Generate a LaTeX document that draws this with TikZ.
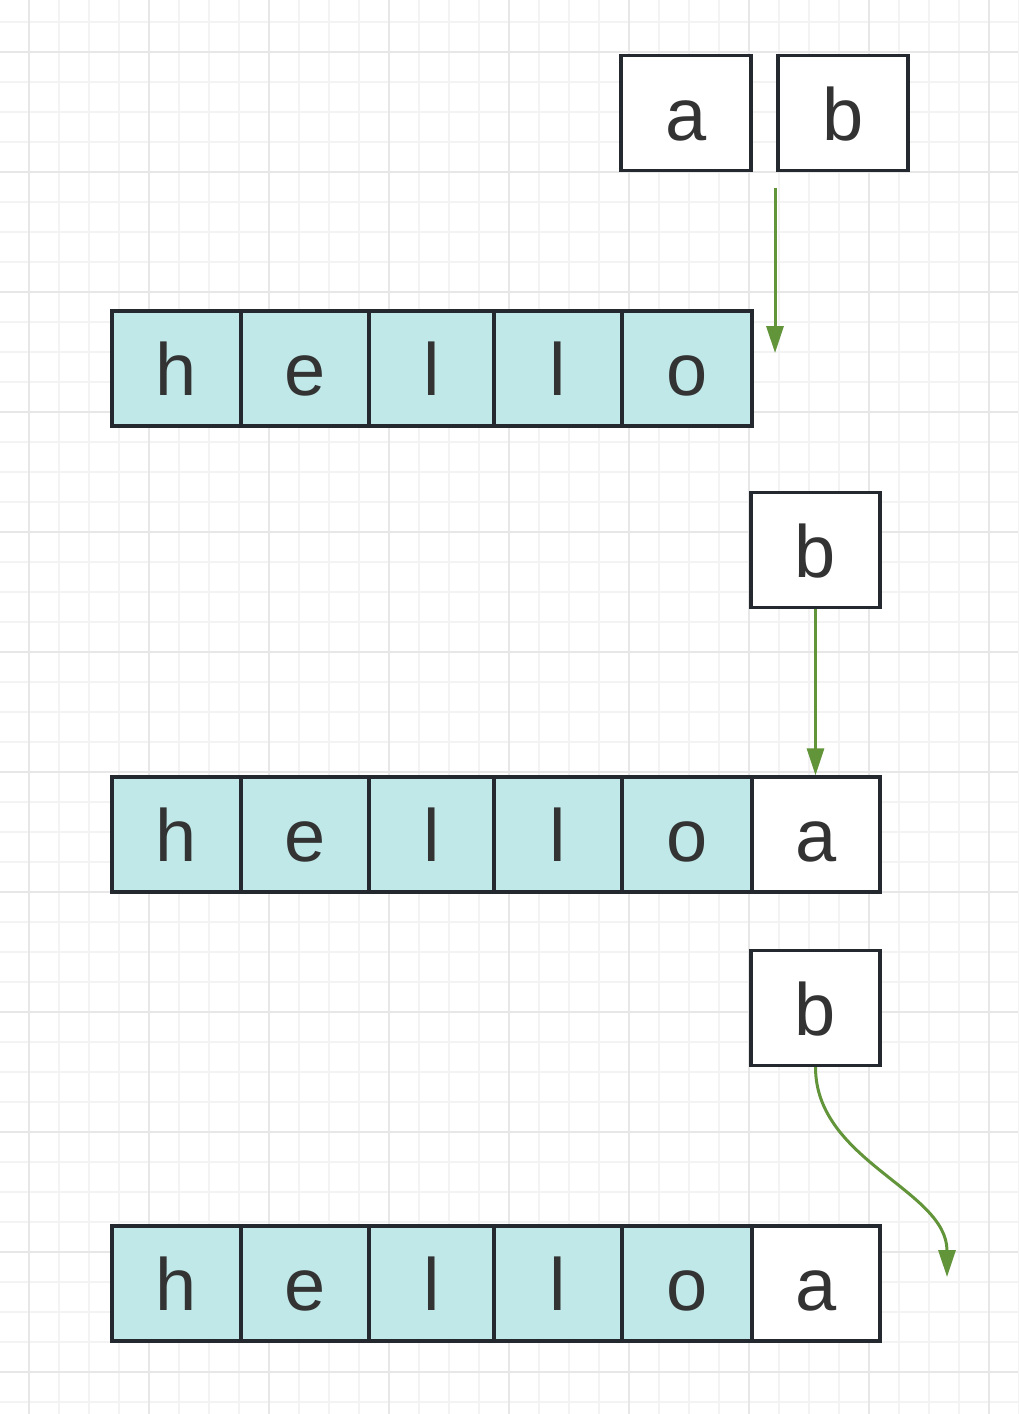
\documentclass[tikz,border=0pt]{standalone}
\usepackage{fontspec}
\setmainfont{Liberation Sans}
\usetikzlibrary{arrows.meta}
\definecolor{cellfill}{RGB}{192,232,232}
\definecolor{edge}{RGB}{36,41,47}
\definecolor{txt}{RGB}{51,51,51}
\definecolor{arrowgreen}{RGB}{98,148,58}
\definecolor{gridminor}{RGB}{243,243,243}
\definecolor{gridmajor}{RGB}{231,231,231}
\begin{document}
\begin{tikzpicture}[x=1pt,y=-1pt,
  cell/.style={draw=edge, line width=3.2pt, minimum height=115pt, inner sep=0pt,
    text height=54pt, text depth=0pt, text=txt, font=\fontsize{74}{80}\selectfont},
  tealcell/.style={cell, fill=cellfill},
  blankcell/.style={cell, fill=white},
  link/.style={draw=arrowgreen, line width=3pt, -{Triangle[length=27pt,width=17pt]}},
  minorgrid/.style={draw=gridminor, line width=1.2pt},
  majorgrid/.style={draw=gridmajor, line width=1.6pt}]
\useasboundingbox (0,0) rectangle (1018,1414);
\fill[white] (0,0) rectangle (1018,1414);
% grid
\foreach \x in {-1,29,...,1020} \draw[minorgrid] (\x,0) -- (\x,1414);
\foreach \y in {22,52,...,1414} \draw[minorgrid] (0,\y) -- (1018,\y);
\foreach \x in {29,149,...,1020} \draw[majorgrid] (\x,0) -- (\x,1414);
\foreach \y in {52,172,...,1414} \draw[majorgrid] (0,\y) -- (1018,\y);

% top boxes
\node[blankcell, minimum width=130pt] (ta) at (686,113) {a};
\node[blankcell, minimum width=130pt] (tb) at (843,113) {b};

% row 1
\node[tealcell, minimum width=129pt] (r1c1) at (176.5,368.5) {h};
\node[tealcell, minimum width=128pt] (r1c2) at (305,368.5) {e};
\node[tealcell, minimum width=125pt] (r1c3) at (431.5,368.5) {l};
\node[tealcell, minimum width=128pt] (r1c4) at (558,368.5) {l};
\node[tealcell, minimum width=130pt] (r1c5) at (687,368.5) {o};

% arrow 1
\coordinate (s1) at (775,188);
\coordinate (e1) at (775,353);
\draw[link] (s1) -- (e1);

% box b 2
\node[blankcell, minimum width=129pt] (b2) at (815.5,550) {b};

% row 2
\node[tealcell, minimum width=129pt] (r2c1) at (176.5,834.5) {h};
\node[tealcell, minimum width=128pt] (r2c2) at (305,834.5) {e};
\node[tealcell, minimum width=125pt] (r2c3) at (431.5,834.5) {l};
\node[tealcell, minimum width=128pt] (r2c4) at (558,834.5) {l};
\node[tealcell, minimum width=130pt] (r2c5) at (687,834.5) {o};
\node[blankcell, minimum width=128pt] (r2c6) at (816,834.5) {a};

\draw[link] (b2.south) -- (b2.south |- r2c6.north);

% box b 3
\node[blankcell, minimum width=129pt] (b3) at (815.5,1008) {b};

% row 3
\node[tealcell, minimum width=129pt] (r3c1) at (176.5,1283.5) {h};
\node[tealcell, minimum width=128pt] (r3c2) at (305,1283.5) {e};
\node[tealcell, minimum width=125pt] (r3c3) at (431.5,1283.5) {l};
\node[tealcell, minimum width=128pt] (r3c4) at (558,1283.5) {l};
\node[tealcell, minimum width=130pt] (r3c5) at (687,1283.5) {o};
\node[blankcell, minimum width=128pt] (r3c6) at (816,1283.5) {a};

% arrow 3
\coordinate (e3) at (947,1277);
\draw[link] (b3.south) .. controls +(0,94) and +(0,-87) .. (e3);
\end{tikzpicture}
\end{document}
